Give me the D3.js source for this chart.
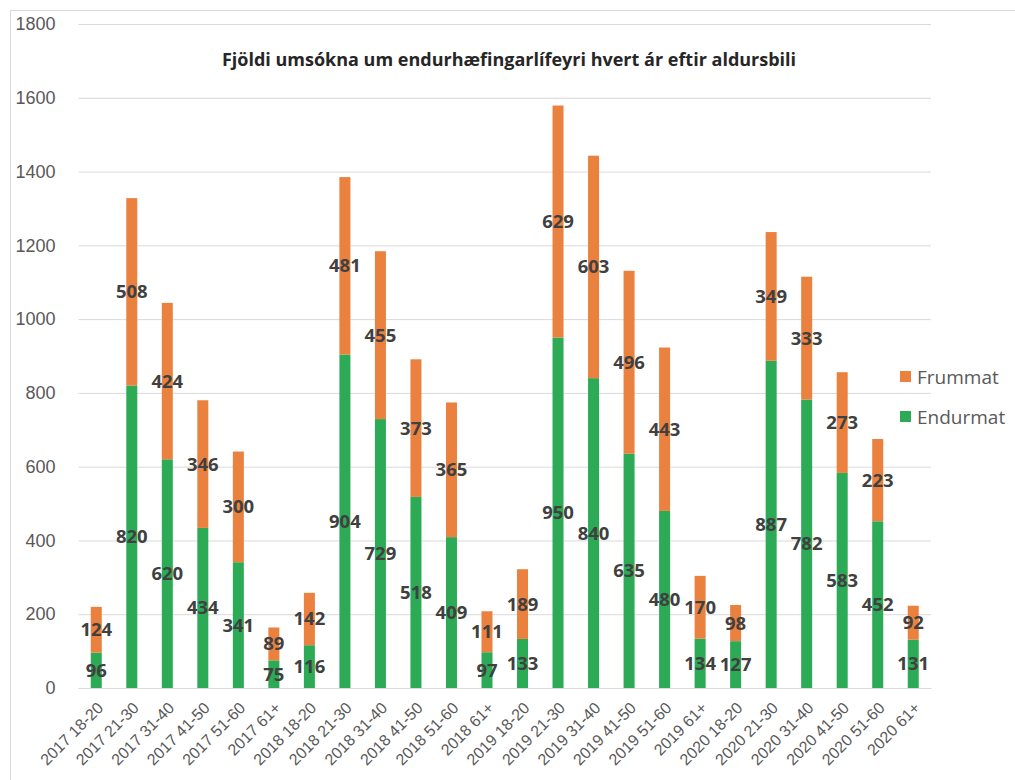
<!DOCTYPE html>
<html>
<head>
<meta charset="utf-8">
<script src="https://cdn.jsdelivr.net/npm/d3@7"></script>
<style>
  body { margin: 0; background: #fff; }
  svg { font-family: "Open Sans", "Noto Sans", sans-serif; }
</style>
</head>
<body>
<svg id="chart"></svg>
<script>
// categories (year + age band)
var categories = [
  '2017 18-20', '2017 21-30', '2017 31-40', '2017 41-50', '2017 51-60', '2017 61+',
  '2018 18-20', '2018 21-30', '2018 31-40', '2018 41-50', '2018 51-60', '2018 61+',
  '2019 18-20', '2019 21-30', '2019 31-40', '2019 41-50', '2019 51-60', '2019 61+',
  '2020 18-20', '2020 21-30', '2020 31-40', '2020 41-50', '2020 51-60', '2020 61+'
];
var endurmat = [96, 820, 620, 434, 341, 75, 116, 904, 729, 518, 409, 97,
                133, 950, 840, 635, 480, 134, 127, 887, 782, 583, 452, 131];
var frummat = [124, 508, 424, 346, 300, 89, 142, 481, 455, 373, 365, 111,
               189, 629, 603, 496, 443, 170, 98, 349, 333, 273, 223, 92];
var yTicks = [0, 200, 400, 600, 800, 1000, 1200, 1400, 1600, 1800];
var seriesNames = ['Endurmat', 'Frummat'];
var title = 'Fjöldi umsókna um endurhæfingarlífeyri hvert ár eftir aldursbili';

var width = 1015, height = 780;
var plotLeft = 78.5, plotRight = 931, plotTop = 24, plotBottom = 688;
var colors = { Endurmat: '#2DAA56', Frummat: '#EA813F' };

var svg = d3.select('#chart').attr('width', width).attr('height', height);

// outer frame
svg.append('rect')
  .attr('x', 10.5).attr('y', 10.5)
  .attr('width', 1020).attr('height', 790)
  .attr('fill', 'none').attr('stroke', '#d9d9d9');

var table = categories.map(function(c, i) {
  return { cat: c, Endurmat: endurmat[i], Frummat: frummat[i] };
});
var stacked = d3.stack().keys(seriesNames)(table);

var xScale = d3.scaleBand().domain(categories).range([plotLeft, plotRight]).paddingInner(0.69).paddingOuter(0.345);
var yScale = d3.scaleLinear().domain([0, 1800]).range([plotBottom, plotTop]);

// y grid
var yAxis = d3.axisLeft(yScale).tickValues(yTicks).tickSize(-(plotRight - plotLeft)).tickFormat(d3.format('d'));
var gy = svg.append('g').attr('transform', 'translate(' + plotLeft + ',0)').call(yAxis);
gy.select('.domain').remove();
gy.selectAll('.tick line').attr('stroke', '#d9d9d9');
gy.selectAll('.tick text')
  .attr('x', -23).attr('fill', '#595959')
  .style('font-size', '18px');

// x axis labels
var xAxis = d3.axisBottom(xScale).tickSize(0);
var gx = svg.append('g').attr('transform', 'translate(0,' + plotBottom + ')').call(xAxis);
gx.select('.domain').attr('stroke', '#d9d9d9');
gx.selectAll('.tick text')
  .attr('fill', '#595959')
  .style('font-size', '16px')
  .attr('text-anchor', 'end')
  .attr('transform', 'translate(4,17) rotate(-45)')
  .attr('x', 0).attr('y', 0).attr('dy', '0.35em');

// bars
var layers = svg.append('g').selectAll('g').data(stacked).enter().append('g')
  .attr('fill', function(d) { return colors[d.key]; });

layers.selectAll('rect').data(function(d) { return d; }).enter().append('rect')
  .attr('x', function(d) { return xScale(d.data.cat); })
  .attr('width', xScale.bandwidth())
  .attr('y', function(d) { return yScale(d[1]); })
  .attr('height', function(d) { return yScale(d[0]) - yScale(d[1]); });

// data labels
var labels = svg.append('g');
stacked.forEach(function(layer) {
  labels.selectAll(null).data(layer).enter().append('text')
    .attr('x', function(d) { return xScale(d.data.cat) + xScale.bandwidth() / 2; })
    .attr('y', function(d) { return yScale((d[0] + d[1]) / 2); })
    .attr('dy', '0.35em')
    .attr('text-anchor', 'middle')
    .attr('fill', '#404040')
    .style('font-size', '18.5px')
    .style('font-weight', 'bold')
    .text(function(d) { return d[1] - d[0]; });
});

// title
svg.append('text')
  .attr('x', 509).attr('y', 66)
  .attr('text-anchor', 'middle')
  .attr('fill', '#262626')
  .style('font-size', '18px')
  .style('font-weight', 'bold')
  .text(title);

// legend
var legendItems = ['Frummat', 'Endurmat'];
var legend = svg.append('g').selectAll('g').data(legendItems).enter().append('g')
  .attr('transform', function(d, i) { return 'translate(900,' + (377 + i * 40) + ')'; });
legend.append('rect')
  .attr('x', 0).attr('y', -6).attr('width', 11).attr('height', 11)
  .attr('fill', function(d) { return colors[d]; });
legend.append('text')
  .attr('x', 17).attr('y', 0).attr('dy', '0.35em')
  .attr('fill', '#595959')
  .style('font-size', '19px')
  .text(function(d) { return d; });
</script>
</body>
</html>
